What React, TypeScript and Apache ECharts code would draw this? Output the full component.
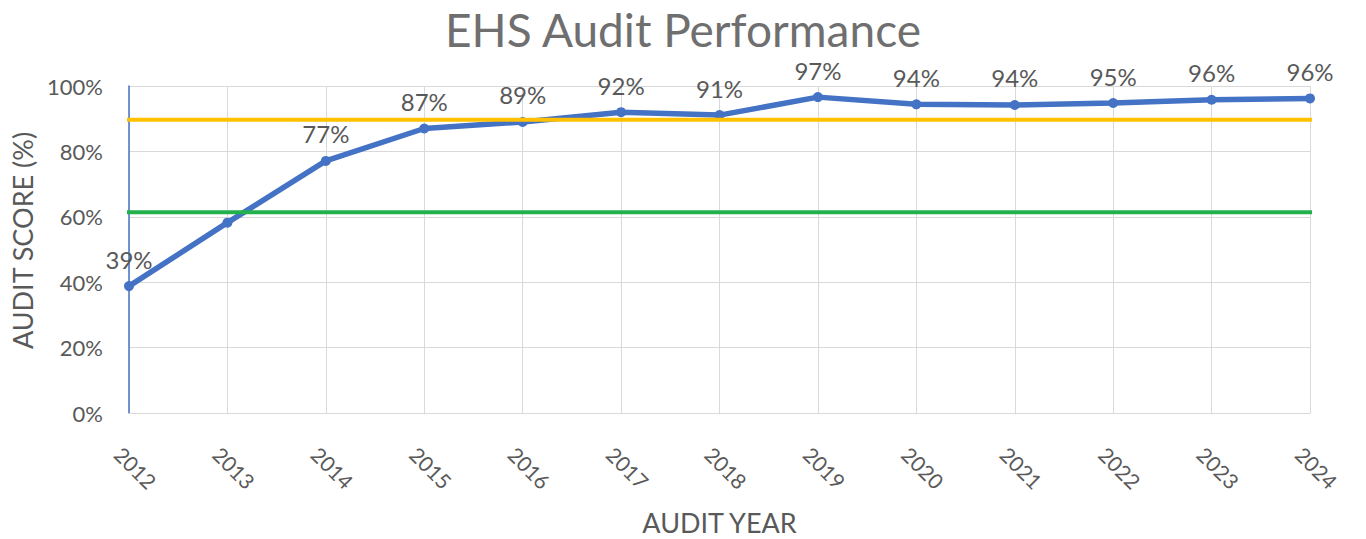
import React, { useEffect, useRef } from "react";
import * as echarts from "echarts";

const years = ["2012","2013","2014","2015","2016","2017","2018","2019","2020","2021","2022","2023","2024"];
const scores = [38.8, 58.2, 77.1, 87.0, 89.0, 92.0, 91.1, 96.6, 94.4, 94.2, 94.8, 95.8, 96.2];
const labelled = [true, false, true, true, true, true, true, true, true, true, true, true, true];
const upperTarget = 89.7;
const lowerTarget = 61.4;
const targetSpan = [-0.04, 12.08];
const yTicks = { min: 0, max: 100, interval: 20 };

const FONT = "Lato, 'Open Sans', sans-serif";
const GREY = "#595959";

export default function App() {
  const ref = useRef<HTMLDivElement>(null);
  useEffect(() => {
    const chart = echarts.init(ref.current!, null, { renderer: "svg" });
    const lastIdx = years.length - 1;
    const targetLine = (y: number, color: string) => ({
      type: "line",
      xAxisIndex: 1,
      data: targetSpan.map((x) => [x, y]),
      clip: false,
      symbol: "none",
      silent: true,
      z: 5,
      lineStyle: { color, width: 4 },
      label: { show: false },
    });
    chart.setOption({
      animation: false,
      textStyle: { fontFamily: FONT },
      title: {
        text: "EHS Audit Performance",
        left: "center",
        top: 1,
        textStyle: { fontFamily: FONT, fontSize: 46, fontWeight: "normal", color: "#6f6f6f" },
      },
      grid: { left: 129, right: 56, top: 86, bottom: 126, outerBoundsMode: "none", containLabel: false },
      xAxis: [
        {
          type: "category",
          data: years,
          boundaryGap: false,
          name: "AUDIT YEAR",
          nameLocation: "middle",
          nameGap: 96,
          nameTextStyle: { fontFamily: FONT, fontSize: 27, color: GREY },
          axisLine: { show: true, lineStyle: { color: "#d9d9d9", width: 1 } },
          axisTick: { show: false },
          splitLine: { show: true, lineStyle: { color: "#d9d9d9", width: 1 } },
          axisLabel: {
            rotate: -45,
            align: "center",
            verticalAlign: "middle",
            padding: [0, 0, 11, 19],
            fontSize: 21,
            color: GREY,
            fontFamily: FONT,
            margin: 48,
          },
        },
        {
          type: "value",
          min: 0,
          max: lastIdx,
          show: false,
        },
      ],
      yAxis: {
        type: "value",
        min: yTicks.min,
        max: yTicks.max,
        interval: yTicks.interval,
        name: "AUDIT SCORE (%)",
        nameLocation: "middle",
        nameGap: 92,
        nameTextStyle: { fontFamily: FONT, fontSize: 27, color: GREY, padding: [0, 0, 0, 18] },
        axisLine: { show: true, lineStyle: { color: "#4472C4", width: 1.5 } },
        axisTick: { show: false },
        splitLine: { show: true, lineStyle: { color: "#d9d9d9", width: 1 } },
        axisLabel: { formatter: "{value}%", fontSize: 22, color: GREY, fontFamily: FONT, margin: 26 },
      },
      series: [
        {
          type: "line",
          data: scores.map((v, i) => ({ value: v, label: { show: labelled[i] } })),
          lineStyle: { color: "#4472C4", width: 5.5 },
          itemStyle: { color: "#4472C4" },
          symbol: "circle",
          symbolSize: 10,
          z: 2,
          label: {
            show: true,
            position: "top",
            distance: 10,
            fontSize: 24,
            color: GREY,
            fontFamily: FONT,
            formatter: (p: any) => Math.round(p.value) + "%",
          },
        },
        targetLine(upperTarget, "#FFC000"),
        targetLine(lowerTarget, "#22B14C"),
      ],
    });
    return () => chart.dispose();
  }, []);
  return (
    <div
      ref={ref}
      style={{ position: "absolute", left: 0, top: 0, width: 1366, height: 539 }}
    />
  );
}
